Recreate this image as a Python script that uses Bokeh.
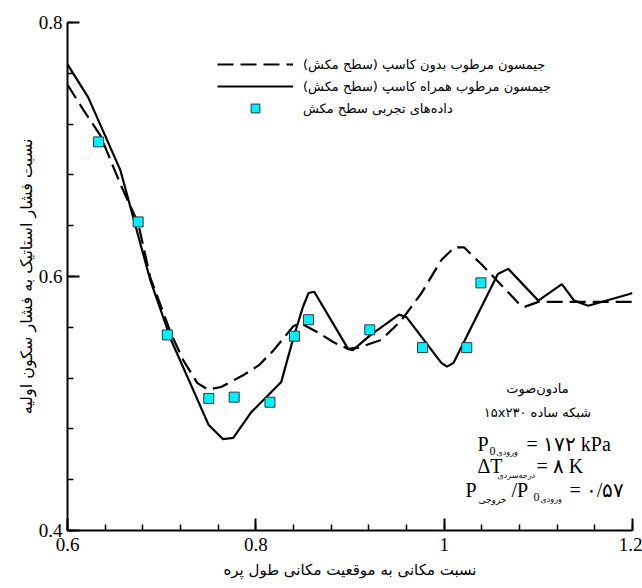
from bokeh.plotting import figure
from bokeh.models import (Range1d, Label, Legend, LegendItem, FixedTicker,
                          CustomJSTickFormatter)
from bokeh.embed import file_html
from bokeh.resources import INLINE
import numpy as np

# ---------------- data ----------------
dash_x = [0.600, 0.617, 0.635, 0.656, 0.675, 0.688, 0.710, 0.723, 0.738, 0.749,
          0.763, 0.786, 0.803, 0.819, 0.840, 0.848, 0.866, 0.883, 0.898, 0.909,
          0.933, 0.954, 0.976, 0.997, 1.011, 1.021, 1.039, 1.061, 1.079, 1.085,
          1.100, 1.125, 1.153, 1.200]
dash_y = [0.751, 0.731, 0.711, 0.673, 0.642, 0.599, 0.555, 0.534, 0.516, 0.511,
          0.513, 0.522, 0.530, 0.542, 0.561, 0.563, 0.556, 0.548, 0.543, 0.544,
          0.550, 0.565, 0.587, 0.613, 0.623, 0.623, 0.610, 0.593, 0.579, 0.576,
          0.580, 0.580, 0.580, 0.580]

solid_x = [0.600, 0.622, 0.656, 0.688, 0.710, 0.750, 0.765, 0.776, 0.795, 0.811,
           0.827, 0.840, 0.850, 0.856, 0.862, 0.898, 0.903, 0.922, 0.952, 0.960,
           0.997, 1.003, 1.010, 1.057, 1.068, 1.100, 1.125, 1.138, 1.153, 1.196,
           1.200]
solid_y = [0.767, 0.741, 0.684, 0.597, 0.550, 0.483, 0.472, 0.473, 0.493, 0.505,
           0.517, 0.552, 0.576, 0.587, 0.588, 0.543, 0.542, 0.554, 0.570, 0.568,
           0.532, 0.529, 0.532, 0.602, 0.606, 0.581, 0.594, 0.581, 0.577, 0.586,
           0.587]

exp_x = [0.633, 0.675, 0.706, 0.750, 0.777, 0.815, 0.841, 0.856, 0.921, 0.977,
         1.024, 1.039]
exp_y = [0.706, 0.643, 0.554, 0.504, 0.505, 0.501, 0.553, 0.566, 0.558, 0.544,
         0.544, 0.595]

x_ticks = [0.6, 0.8, 1.0, 1.2]
x_tick_labels = ["0.6", "0.8", "1", "1.2"]
y_ticks = [0.4, 0.6, 0.8]
y_tick_labels = ["0.4", "0.6", "0.8"]

RLE, PDF = "\u202B", "\u202C"


def rtl(s):
    return RLE + s + PDF


series_names = ["جیمسون مرطوب بدون کاسپ (سطح مکش)",
                "جیمسون مرطوب همراه کاسپ (سطح مکش)",
                "داده‌های تجربی سطح مکش"]
x_title = "نسبت مکانی به موقعیت مکانی طول پره"
y_title = "نسبت فشار استاتیک به فشار سکون اولیه"

FA = "DejaVu Sans"
SERIF = "Liberation Serif"

p = figure(width=642, height=588, x_range=Range1d(0.6, 1.2), y_range=Range1d(0.4, 0.8),
           output_backend="svg", toolbar_location=None,
           min_border_left=67, min_border_right=10, min_border_top=22, min_border_bottom=58)
p.outline_line_color = None
p.xgrid.visible = False
p.ygrid.visible = False
p.background_fill_color = "white"
p.border_fill_color = "white"

fmt_code = """
let best = 0; let bd = 1e9;
for (let i = 0; i < tvals.length; i++) { const d = Math.abs(tvals[i] - tick); if (d < bd) { bd = d; best = i; } }
return tlabels[best];
"""
p.xaxis.ticker = FixedTicker(ticks=x_ticks,
                             minor_ticks=[round(v, 2) for v in np.arange(0.6, 1.2001, 0.04)])
p.yaxis.ticker = FixedTicker(ticks=y_ticks,
                             minor_ticks=[round(v, 2) for v in np.arange(0.4, 0.8001, 0.04)])
p.xaxis.formatter = CustomJSTickFormatter(args=dict(tvals=x_ticks, tlabels=x_tick_labels), code=fmt_code)
p.yaxis.formatter = CustomJSTickFormatter(args=dict(tvals=y_ticks, tlabels=y_tick_labels), code=fmt_code)

for ax in (p.xaxis, p.yaxis):
    ax.axis_line_width = 2
    ax.axis_line_color = "black"
    ax.major_tick_in = 12
    ax.major_tick_out = 0
    ax.minor_tick_in = 6
    ax.minor_tick_out = 0
    ax.major_tick_line_width = 2
    ax.minor_tick_line_width = 1.5
    ax.major_tick_line_color = "black"
    ax.minor_tick_line_color = "black"
    ax.major_label_text_font = SERIF
    ax.major_label_text_font_size = "19px"
    ax.major_label_text_color = "black"
    ax.axis_label_text_font = FA
    ax.axis_label_text_font_style = "normal"
    ax.axis_label_text_color = "black"

p.xaxis.axis_label = rtl(x_title)
p.yaxis.axis_label = rtl(y_title)
p.xaxis.axis_label_text_font_size = "15px"
p.yaxis.axis_label_text_font_size = "16px"
p.xaxis.major_label_standoff = 7
p.xaxis.axis_label_standoff = 7
p.yaxis.major_label_standoff = 5
p.yaxis.axis_label_standoff = 0

r_dash = p.line(dash_x, dash_y, line_color="black", line_width=2.2, line_dash="16 7")
r_solid = p.line(solid_x, solid_y, line_color="black", line_width=2.2)
r_exp = p.scatter(exp_x, exp_y, marker="square", size=10, fill_color="#00f0ff",
                  line_color="#2a3a3a", line_width=1)

legend = Legend(items=[LegendItem(label=rtl(series_names[0]), renderers=[r_dash]),
                       LegendItem(label=rtl(series_names[1]), renderers=[r_solid]),
                       LegendItem(label=rtl(series_names[2]), renderers=[r_exp])],
                location=(150, 411), border_line_alpha=0, background_fill_alpha=0,
                padding=0, margin=0, spacing=0, glyph_width=76, glyph_height=22,
                label_height=22, label_standoff=10, label_text_font=FA,
                label_text_font_size="13px", label_text_color="black")
p.add_layout(legend)


def X(px):
    return 0.6 + (px - 67) / 941.7


def Y(py):
    return 0.4 + (530 - py) / 1270.0


def lab(px, py, text, size, font=SERIF, align="left", baseline="alphabetic"):
    p.add_layout(Label(x=X(px), y=Y(py), text=text, text_font=font,
                       text_font_size=f"{size}px", text_align=align,
                       text_baseline=baseline, text_color="black"))


# annotation block
lab(537, 388, rtl("مادون‌صوت"), 13, FA, "center", "middle")
lab(537, 412, rtl("شبکه ساده ۱۵x۲۳۰"), 13, FA, "center", "middle")

# P0 inlet = 172 kPa
lab(477, 443, "P", 20)
lab(489, 450, "0", 12)
lab(496, 452, rtl("ورودی"), 8, FA)
lab(526, 443, "=  ۱۷۲ kPa", 20)

# dT subcooling = 8 K
lab(477, 465, "ΔT", 20)
lab(497, 475, rtl("درجه‌سردی"), 8, FA)
lab(536, 465, "=  ۸ K", 20)

# P outlet / P0 inlet = 0.57
lab(465, 489, "P", 20)
lab(478, 499, rtl("خروجی"), 9, FA)
lab(511, 489, "/P", 20)
lab(533, 496, "0", 12)
lab(540, 499, rtl("ورودی"), 8, FA)
lab(569, 489, "=  ۰/۵۷", 20)

open("out.html", "w").write(file_html(p, INLINE))
